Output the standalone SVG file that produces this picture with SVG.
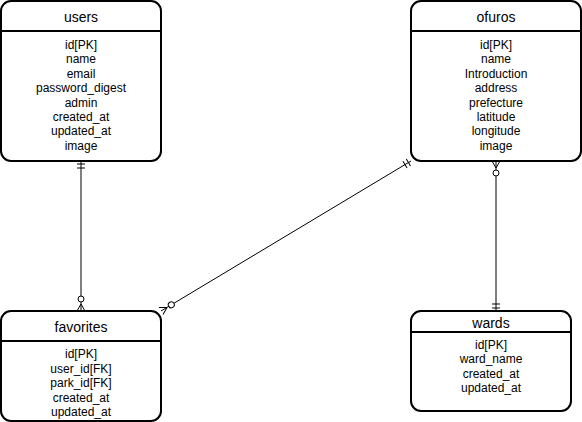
<svg xmlns="http://www.w3.org/2000/svg" width="582" height="422" viewBox="0 0 582 422">
<style>
.box{fill:#fff;stroke:#000;stroke-width:2}
.hdr{stroke:#000;stroke-width:2}
.title{font-family:"Liberation Sans",Arial,sans-serif;font-size:14px;text-anchor:middle;fill:#000}
.fld{font-family:"Liberation Sans",Arial,sans-serif;font-size:12px;text-anchor:middle;fill:#000}
.edge{stroke:#000;stroke-width:1;fill:none}
.mk{stroke:#000;stroke-width:1;fill:none}
</style>
<defs>
<marker id="many" markerUnits="userSpaceOnUse" orient="auto-start-reverse" refX="0" refY="0" markerWidth="20" markerHeight="12" overflow="visible">
<path class="mk" d="M-7,0 L0,-4 M-7,0 L0,4"/>
<circle cx="-12" cy="0" r="3" fill="#fff" stroke="#000" stroke-width="1"/>
</marker>
<marker id="one" markerUnits="userSpaceOnUse" orient="auto-start-reverse" refX="0" refY="0" markerWidth="20" markerHeight="12" overflow="visible">
<path class="mk" d="M-3,-4 L-3,4 M-7,-4 L-7,4"/>
</marker>
</defs>
<g id="connectors">
<line class="edge" x1="81" y1="161" x2="81" y2="311" marker-start="url(#one)" marker-end="url(#many)"/>
<line class="edge" x1="496" y1="161" x2="496" y2="311" marker-start="url(#many)" marker-end="url(#one)"/>
<line class="edge" x1="161" y1="311" x2="411" y2="161" marker-start="url(#many)" marker-end="url(#one)"/>
</g>
<g id="users">
<rect class="box" x="1" y="1" width="160" height="160" rx="10"/>
<line class="hdr" x1="1" y1="31" x2="161" y2="31"/>
<text class="title" x="81" y="22">users</text>
<text class="fld" x="81" y="49">id[PK]</text>
<text class="fld" x="81" y="63.4">name</text>
<text class="fld" x="81" y="77.8">email</text>
<text class="fld" x="81" y="92.2">password_digest</text>
<text class="fld" x="81" y="106.6">admin</text>
<text class="fld" x="81" y="121">created_at</text>
<text class="fld" x="81" y="135.4">updated_at</text>
<text class="fld" x="81" y="149.8">image</text>
</g>
<g id="ofuros">
<rect class="box" x="411" y="1" width="170" height="160" rx="10"/>
<line class="hdr" x1="411" y1="31" x2="581" y2="31"/>
<text class="title" x="496" y="22">ofuros</text>
<text class="fld" x="496" y="49">id[PK]</text>
<text class="fld" x="496" y="63.4">name</text>
<text class="fld" x="496" y="77.8">Introduction</text>
<text class="fld" x="496" y="92.2">address</text>
<text class="fld" x="496" y="106.6">prefecture</text>
<text class="fld" x="496" y="121">latitude</text>
<text class="fld" x="496" y="135.4">longitude</text>
<text class="fld" x="496" y="149.8">image</text>
</g>
<g id="favorites">
<rect class="box" x="1" y="311" width="160" height="110" rx="10"/>
<line class="hdr" x1="1" y1="341" x2="161" y2="341"/>
<text class="title" x="81" y="332">favorites</text>
<text class="fld" x="81" y="358">id[PK]</text>
<text class="fld" x="81" y="372.5">user_id[FK]</text>
<text class="fld" x="81" y="387">park_id[FK]</text>
<text class="fld" x="81" y="401.5">created_at</text>
<text class="fld" x="81" y="416">updated_at</text>
</g>
<g id="wards">
<rect class="box" x="411" y="311" width="160" height="100" rx="10"/>
<line class="hdr" x1="411" y1="332" x2="571" y2="332"/>
<text class="title" x="491" y="327.5">wards</text>
<text class="fld" x="491" y="349">id[PK]</text>
<text class="fld" x="491" y="363.4">ward_name</text>
<text class="fld" x="491" y="377.8">created_at</text>
<text class="fld" x="491" y="392.2">updated_at</text>
</g>
</svg>
